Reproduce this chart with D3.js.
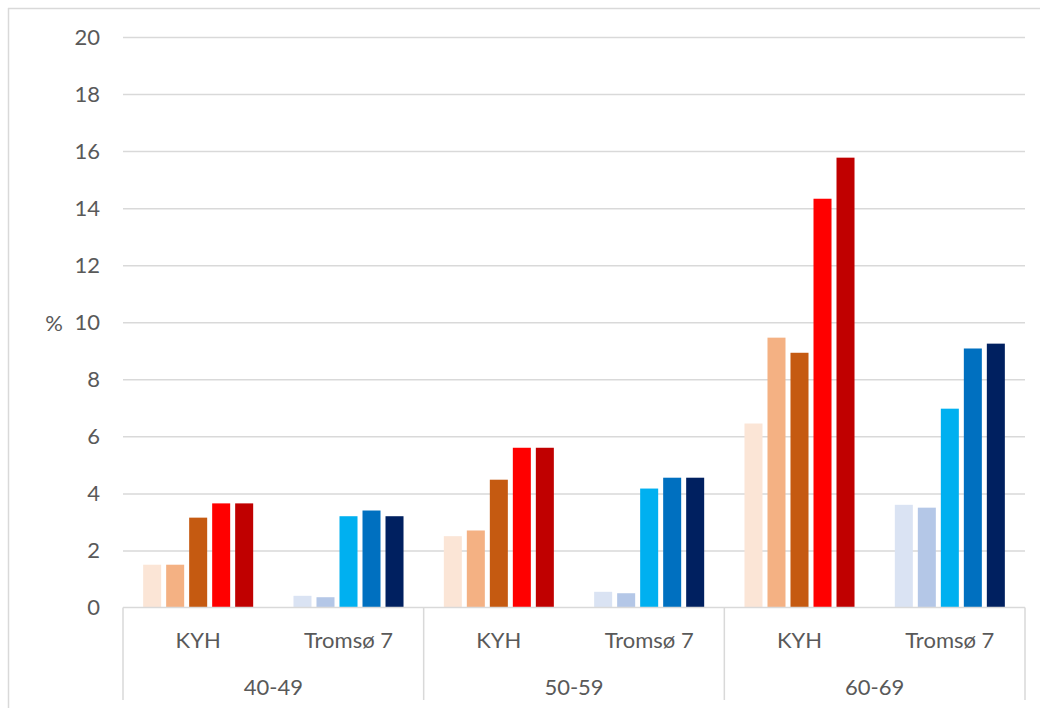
<!DOCTYPE html>
<html>
<head>
<meta charset="utf-8">
<script src="https://cdn.jsdelivr.net/npm/d3@7"></script>
<style>
  html, body { margin: 0; padding: 0; background: #fff; }
  svg { display: block; }
  text { font-family: Lato, "Noto Sans", sans-serif; fill: #595959; }
</style>
</head>
<body>
<svg id="chart" width="1040" height="708"></svg>
<script>
// ---- data ----
const ageGroups = ["40-49", "50-59", "60-69"];
const studies = ["KYH", "Tromsø 7"];
const seriesIdx = [0, 1, 2, 3, 4];
const kyhValues = [
  [1.5, 1.5, 3.15, 3.65, 3.65],
  [2.5, 2.7, 4.48, 5.6, 5.6],
  [6.45, 9.46, 8.93, 14.33, 15.77]
];
const tromsoValues = [
  [0.41, 0.36, 3.2, 3.4, 3.2],
  [0.55, 0.5, 4.17, 4.55, 4.55],
  [3.6, 3.5, 6.97, 9.08, 9.25]
];
const kyhColors = ["#FBE5D6", "#F4B183", "#C55A11", "#FF0000", "#C00000"];
const tromsoColors = ["#DAE3F3", "#B4C7E7", "#00B0F0", "#0070C0", "#002060"];
const yTicks = [0, 2, 4, 6, 8, 10, 12, 14, 16, 18, 20];
const yLabel = "%";

// ---- layout ----
const svg = d3.select("#chart");
const pL = 123, pR = 1025, pT = 37, pB = 607.5, catBottom = 700;

const x0 = d3.scaleBand().domain(ageGroups).range([pL, pR]).padding(0);
const x1 = d3.scaleBand().domain(studies).range([0, x0.bandwidth()]).padding(0);
const x2 = d3.scaleBand().domain(seriesIdx).range([0, x1.bandwidth()])
  .paddingInner(0.217).paddingOuter(0.876);
const y = d3.scaleLinear().domain([0, 20]).range([pB, pT]);

// chart border (top + left visible)
svg.append("line").attr("x1", 8).attr("x2", 1040).attr("y1", 8.5).attr("y2", 8.5)
  .attr("stroke", "#D9D9D9").attr("stroke-width", 1.5);
svg.append("line").attr("x1", 8.5).attr("x2", 8.5).attr("y1", 8).attr("y2", 708)
  .attr("stroke", "#D9D9D9").attr("stroke-width", 1.5);

// gridlines
const yAxis = d3.axisLeft(y).tickValues(yTicks).tickSize(-(pR - pL)).tickPadding(23);
const gy = svg.append("g").attr("transform", `translate(${pL},0)`).call(yAxis);
gy.select(".domain").remove();
gy.selectAll(".tick line").attr("stroke", "#D9D9D9").attr("stroke-width", 1.5)
  .attr("x1", 0);
gy.selectAll(".tick text").attr("font-size", 22).attr("fill", "#595959")
  .style("font-family", "Lato, 'Noto Sans', sans-serif");
gy.selectAll(".tick").filter(d => d === 0).select("line").remove();

// y label
svg.append("text").attr("x", 54).attr("y", y(10)).attr("text-anchor", "middle")
  .attr("dominant-baseline", "central").attr("font-size", 22).text(yLabel);

// bars
const rows = [];
ageGroups.forEach((g, gi) => {
  studies.forEach((s, si) => {
    const vals = si === 0 ? kyhValues[gi] : tromsoValues[gi];
    const cols = si === 0 ? kyhColors : tromsoColors;
    vals.forEach((v, k) => rows.push({ g, s, k, v, c: cols[k] }));
  });
});
svg.append("g").selectAll("rect").data(rows).join("rect")
  .attr("x", d => x0(d.g) + x1(d.s) + x2(d.k))
  .attr("width", x2.bandwidth())
  .attr("y", d => y(d.v))
  .attr("height", d => y(0) - y(d.v))
  .attr("fill", d => d.c);

// category axis line
svg.append("line").attr("x1", pL).attr("x2", pR).attr("y1", pB).attr("y2", pB)
  .attr("stroke", "#D9D9D9").attr("stroke-width", 1.5);

// separators
const seps = ageGroups.map(g => x0(g)).concat([pR]);
svg.append("g").selectAll("line").data(seps).join("line")
  .attr("x1", d => d).attr("x2", d => d).attr("y1", pB).attr("y2", catBottom)
  .attr("stroke", "#D9D9D9").attr("stroke-width", 1.5);

// sub-category labels
const subs = [];
ageGroups.forEach(g => studies.forEach(s => subs.push({ g, s })));
svg.append("g").selectAll("text").data(subs).join("text")
  .attr("x", d => x0(d.g) + x1(d.s) + x1.bandwidth() / 2)
  .attr("y", 639).attr("text-anchor", "middle").attr("dominant-baseline", "central")
  .attr("font-size", 22).text(d => d.s);

// group labels
svg.append("g").selectAll("text").data(ageGroups).join("text")
  .attr("x", d => x0(d) + x0.bandwidth() / 2)
  .attr("y", 686).attr("text-anchor", "middle").attr("dominant-baseline", "central")
  .attr("font-size", 22).text(d => d);
</script>
</body>
</html>
